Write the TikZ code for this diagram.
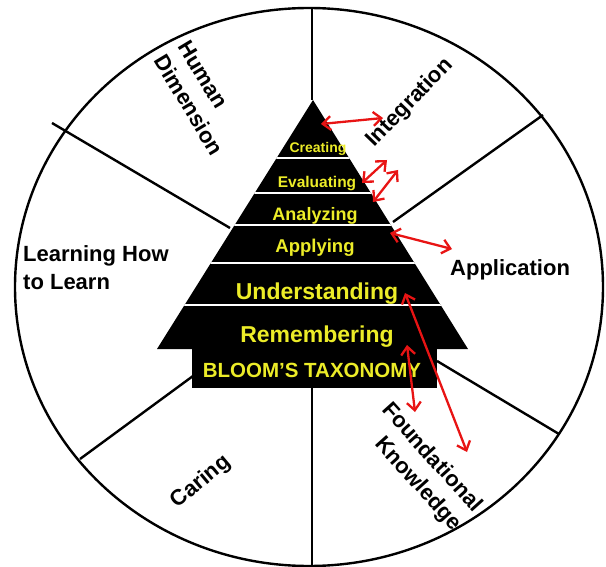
\documentclass[tikz,border=0pt]{standalone}
\usepackage{fontspec}
\setmainfont{Liberation Sans}
\usepackage{tikz}
\usetikzlibrary{arrows.meta}
\definecolor{bloomyellow}{RGB}{236,236,40}
\definecolor{arrowred}{RGB}{232,20,20}

\begin{document}
\begin{tikzpicture}[x=1pt,y=-1pt,
    divider/.style={line width=2.4pt},
    level/.style={text=bloomyellow,inner sep=0pt},
    dimlabel/.style={font=\fontsize{22}{28}\selectfont\bfseries,inner sep=0pt},
    linkarrow/.style={draw=arrowred,line width=2.3pt,{Straight Barb[length=8pt,width=14pt]}-{Straight Barb[length=8pt,width=14pt]}}]
    % Fix the size of the page
    \useasboundingbox (0,0) rectangle (606,567);
    % Draw the outer wheel
    \draw[divider] (309,287) ellipse (294 and 279);
    % Draw the six dividers of the wheel
    \draw[divider] (312,8) -- (312,100); % Top
    \draw[divider] (52,123) -- (230,228); % Upper left
    \draw[divider] (543,115) -- (393,222); % Upper right
    \draw[divider] (80,459) -- (193,376); % Lower left
    \draw[divider] (437,361) -- (559,434); % Lower right
    \draw[divider] (312,388) -- (312,566); % Bottom
    % Draw the pyramid and its base
    \fill (313,100) -- (468,349) -- (157,349) -- cycle;
    \fill (192,349) rectangle (437,388);
    % Draw the white lines between the levels
    \begin{scope}
        \clip (313,100) -- (468,349) -- (157,349) -- cycle;
        \foreach \y in {158,193,225,263,305}
            \draw[white,line width=2.5pt] (150,\y) -- (480,\y);
    \end{scope}
    % Write the levels of the pyramid
    \node[level,font=\fontsize{14}{14}\selectfont\bfseries] (creating) at (318,149) {Creating};
    \node[level,font=\fontsize{15.5}{16}\selectfont\bfseries] (evaluating) at (317,184) {Evaluating};
    \node[level,font=\fontsize{18}{18}\selectfont\bfseries] (analyzing) at (315,216) {Analyzing};
    \node[level,font=\fontsize{18.5}{19}\selectfont\bfseries] (applying) at (315,248) {Applying};
    \node[level,font=\fontsize{23}{23}\selectfont\bfseries] (understanding) at (317,294) {Understanding};
    \node[level,font=\fontsize{23}{23}\selectfont\bfseries] (remembering) at (317,337) {Remembering};
    \node[level,font=\fontsize{20.5}{21}\selectfont\bfseries] (bloom) at (312,370) {BLOOM’S TAXONOMY};
    % Write the labels of the wheel
    \node[dimlabel,rotate=-59,align=left] (human) at (201,98) {Human\\Dimension};
    \node[dimlabel,rotate=46] (integration) at (410,103) {Integration};
    \node[dimlabel,align=left,anchor=north west] (learning) at (23,245) {Learning How\\to Learn};
    \node[dimlabel,anchor=base west] (application) at (450,276) {Application};
    \node[dimlabel,rotate=40] (caring) at (201,482) {Caring};
    \node[dimlabel,rotate=-48,align=right] (foundational) at (421,467) {Foundational\\Knowledge};
    % Ends of the red arrows
    \coordinate (intA) at (321,124);
    \coordinate (intB) at (383,118);
    \coordinate (evalA) at (362,183);
    \coordinate (evalB) at (387,160);
    \coordinate (anaA) at (373,202);
    \coordinate (anaB) at (398,170);
    \coordinate (applyA) at (390,233);
    \coordinate (applyB) at (452,249);
    \coordinate (underA) at (405,293);
    \coordinate (underB) at (467,452);
    \coordinate (rememA) at (407,345);
    \coordinate (rememB) at (415,412);
    % Draw the red arrows
    \draw[linkarrow] (intA) -- (intB);
    \draw[linkarrow] (evalA) -- (evalB);
    \draw[linkarrow] (anaA) -- (anaB);
    \draw[linkarrow] (applyA) -- (applyB);
    \draw[linkarrow] (underA) -- (underB);
    \draw[linkarrow] (rememA) -- (rememB);
\end{tikzpicture}
\end{document}
